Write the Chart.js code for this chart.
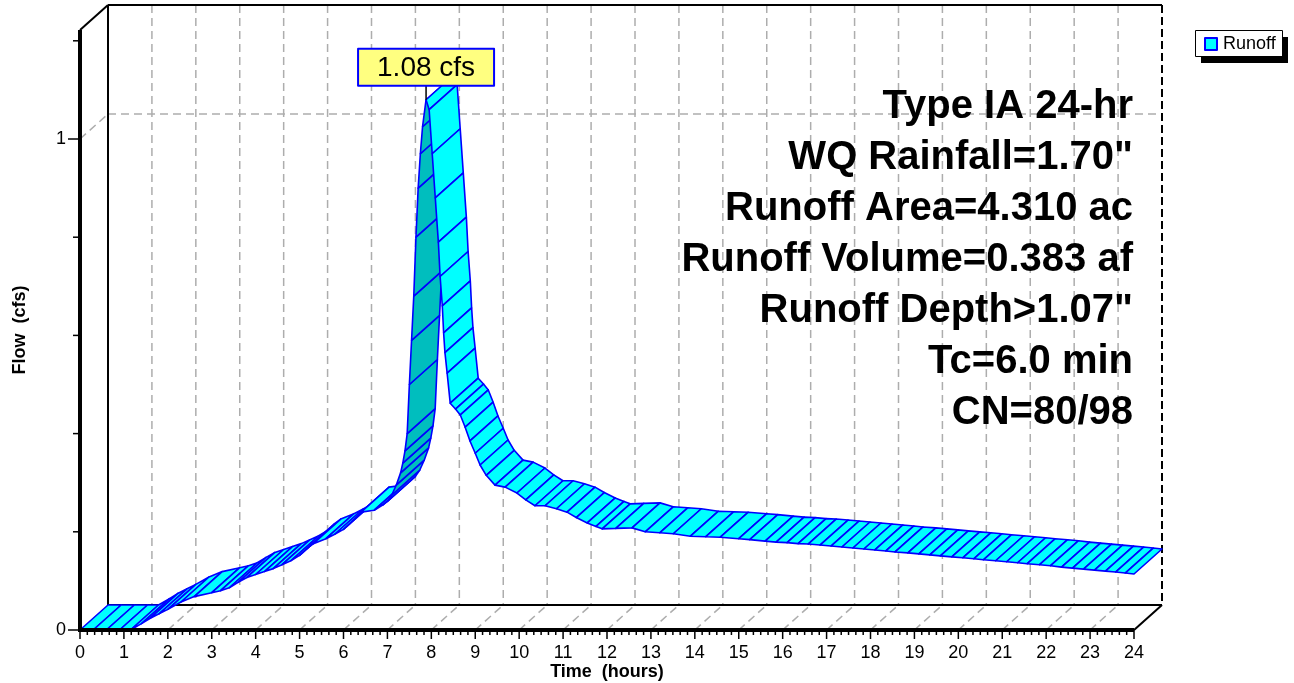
<!DOCTYPE html>
<html><head><meta charset="utf-8">
<script src="https://cdn.jsdelivr.net/npm/chart.js@4.4.1/dist/chart.umd.min.js"></script>
<style>html,body{margin:0;padding:0;background:#fff;overflow:hidden}</style>
</head><body>
<canvas id="c" width="1294" height="683" style="display:block;width:1294px;height:683px"></canvas>
<script>
// ---- data ----
const hours = [0,0.3,0.6,0.9,1.15,1.4,1.6,1.8,2.0,2.3,2.6,3.0,3.2,3.4,3.6,3.8,4.0,4.2,4.4,4.6,4.8,5.0,5.15,5.3,5.6,5.8,6.0,6.2,6.4,6.7,6.9,7.0,7.1,7.2,7.3,7.35,7.4,7.45,7.5,7.55,7.6,7.65,7.7,7.75,7.8,7.88,7.95,8.02,8.09,8.16,8.2,8.25,8.28,8.31,8.36,8.43,8.55,8.66,8.77,8.88,9.0,9.11,9.25,9.45,9.68,9.95,10.15,10.36,10.59,10.85,11.09,11.3,11.55,11.75,11.89,12.2,12.57,12.87,13.2,13.51,13.9,14.25,14.58,15.0,15.25,15.6,15.85,16.1,16.35,16.58,16.85,17.1,17.35,17.6,17.85,18.1,18.35,18.56,18.85,19.1,19.35,19.59,19.85,20.1,20.35,20.57,20.85,21.1,21.35,21.57,21.85,22.1,22.35,22.6,22.85,23.1,23.35,23.58,23.8,24.0];
const flow = [0,0,0,0,0,0.013,0.024,0.033,0.042,0.057,0.068,0.076,0.080,0.086,0.097,0.107,0.113,0.119,0.125,0.133,0.141,0.152,0.165,0.175,0.186,0.195,0.205,0.222,0.240,0.244,0.255,0.262,0.275,0.295,0.32,0.34,0.365,0.40,0.50,0.59,0.68,0.80,0.90,0.97,1.025,1.08,1.06,0.97,0.88,0.79,0.72,0.66,0.605,0.565,0.523,0.462,0.45,0.438,0.413,0.385,0.36,0.336,0.315,0.295,0.291,0.279,0.265,0.253,0.253,0.247,0.240,0.229,0.218,0.211,0.206,0.207,0.208,0.200,0.198,0.196,0.191,0.190,0.189,0.186,0.184,0.181,0.179,0.178,0.176,0.175,0.173,0.171,0.169,0.167,0.165,0.163,0.161,0.159,0.157,0.155,0.153,0.151,0.149,0.147,0.145,0.143,0.141,0.139,0.137,0.135,0.133,0.131,0.128,0.126,0.124,0.122,0.120,0.118,0.116,0.114];
const xTickValues = [0,1,2,3,4,5,6,7,8,9,10,11,12,13,14,15,16,17,18,19,20,21,22,23,24];
const yTickValues = [0,1];
const yTickLabels = ['0','1'];
const seriesName = 'Runoff';
const peakLabel = '1.08 cfs';
const infoLines = ['Type IA 24-hr','WQ Rainfall=1.70"','Runoff Area=4.310 ac','Runoff Volume=0.383 af','Runoff Depth>1.07"','Tc=6.0 min','CN=80/98'];
const xTitle = 'Time  (hours)';
const yTitle = 'Flow  (cfs)';

// ---- style ----
const FONT = '"Liberation Sans", Arial, sans-serif';
const DX = 28, DY = 25;            // pseudo-3D depth offset (px)
const CYAN = '#00FFFF', TEAL = '#00BEBE', BLUE = '#0000FF', GRID = '#ADADAD';

const points = hours.map((h, i) => ({x: h, y: flow[i]}));

function line(ctx, x1, y1, x2, y2) { ctx.beginPath(); ctx.moveTo(x1, y1); ctx.lineTo(x2, y2); ctx.stroke(); }

const ribbonPlugin = {
  id: 'ribbon3d',
  beforeDatasetsDraw(chart) {
    const ctx = chart.ctx, xs = chart.scales.x, ys = chart.scales.y, a = chart.chartArea;
    const y0 = ys.getPixelForValue(0), top = a.top;
    ctx.save();
    // back wall dashed grid
    ctx.strokeStyle = GRID; ctx.lineWidth = 1.5; ctx.setLineDash([8, 5]);
    for (const h of xTickValues) {
      if (h === 0 || h === 24) continue;
      const xb = xs.getPixelForValue(h) + DX;
      line(ctx, xb, top - DY, xb, y0 - DY);
      line(ctx, xs.getPixelForValue(h), y0, xb, y0 - DY);
    }
    for (const v of yTickValues) {
      if (v === 0) continue;
      const yp = ys.getPixelForValue(v);
      line(ctx, a.left, yp, a.left + DX, yp - DY);
      line(ctx, a.left + DX, yp - DY, a.right + DX, yp - DY);
    }
    // right back edge dashed dark
    ctx.strokeStyle = '#000'; ctx.lineWidth = 2; ctx.setLineDash([8, 4]);
    line(ctx, a.right + DX, top - DY, a.right + DX, y0 - DY);
    ctx.setLineDash([]);
    // back wall frame
    ctx.lineWidth = 2;
    line(ctx, a.left + DX, top - DY, a.left + DX, y0 - DY);
    line(ctx, a.left + DX, top - DY, a.right + DX, top - DY);
    line(ctx, a.left + DX, y0 - DY, a.right + DX, y0 - DY);
    line(ctx, a.left, top, a.left + DX, top - DY);
    line(ctx, a.right, y0, a.right + DX, y0 - DY);
    ctx.restore();
  },
  afterDatasetsDraw(chart) {
    const ctx = chart.ctx, xs = chart.scales.x, ys = chart.scales.y, a = chart.chartArea;
    const pts = chart.getDatasetMeta(0).data;
    const y0 = ys.getPixelForValue(0);
    ctx.save();
    // ribbon
    ctx.lineJoin = 'round'; ctx.lineWidth = 1.6; ctx.strokeStyle = BLUE;
    for (let i = 0; i < pts.length - 1; i++) {
      const p = pts[i], q = pts[i + 1];
      const cross = (q.x - p.x) * (-DY) - (q.y - p.y) * DX;
      ctx.beginPath();
      ctx.moveTo(p.x, p.y); ctx.lineTo(q.x, q.y);
      ctx.lineTo(q.x + DX, q.y - DY); ctx.lineTo(p.x + DX, p.y - DY); ctx.closePath();
      ctx.fillStyle = cross > 0 ? TEAL : CYAN;
      ctx.fill(); ctx.stroke();
    }
    // front axes
    ctx.strokeStyle = '#000'; ctx.lineWidth = 4; ctx.lineCap = 'butt';
    line(ctx, a.left, a.top, a.left, y0 + 2);
    line(ctx, a.left - 2, y0, a.right, y0);
    ctx.lineWidth = 1.5;
    // x ticks (major each hour, minor each 10 min)
    for (let k = 0; k <= 24 * 6; k++) {
      const xp = xs.getPixelForValue(k / 6);
      line(ctx, xp, y0, xp, y0 + (k % 6 === 0 ? 9 : 5));
    }
    // y ticks
    for (let k = 0; k <= 6; k++) {
      const v = k * 0.2, yp = ys.getPixelForValue(v);
      const major = yTickValues.some(t => Math.abs(t - v) < 1e-9);
      line(ctx, a.left - (major ? 12 : 7), yp, a.left, yp);
    }
    // peak label
    let pk = pts[0];
    for (const p of pts) if (p.y < pk.y) pk = p;
    const bw = 136, bh = 37, bx = pk.x - bw / 2, by = pk.y - 14 - bh;
    ctx.strokeStyle = '#000'; ctx.lineWidth = 1.5;
    line(ctx, pk.x, by + bh, pk.x, pk.y);
    ctx.fillStyle = '#FFFF80'; ctx.fillRect(bx, by, bw, bh);
    ctx.strokeStyle = BLUE; ctx.lineWidth = 2; ctx.strokeRect(bx, by, bw, bh);
    ctx.fillStyle = '#000'; ctx.font = '28px ' + FONT; ctx.textAlign = 'center'; ctx.textBaseline = 'middle';
    ctx.fillText(peakLabel, pk.x, by + bh / 2 + 1);
    // info text
    ctx.font = 'bold 40px ' + FONT; ctx.textAlign = 'right'; ctx.textBaseline = 'alphabetic';
    infoLines.forEach((t, i) => ctx.fillText(t, a.right - 1, 118 + i * 51));
    // legend
    const lx = 1195, ly = 30, lw = 87, lh = 26;
    ctx.fillStyle = '#000'; ctx.fillRect(lx + 6, ly + 7, lw, lh);
    ctx.fillStyle = '#fff'; ctx.fillRect(lx, ly, lw, lh);
    ctx.strokeStyle = '#000'; ctx.lineWidth = 1; ctx.strokeRect(lx + 0.5, ly + 0.5, lw, lh);
    ctx.fillStyle = CYAN; ctx.fillRect(lx + 10, ly + 8, 12, 12);
    ctx.strokeStyle = BLUE; ctx.lineWidth = 2; ctx.strokeRect(lx + 10, ly + 8, 12, 12);
    ctx.fillStyle = '#000'; ctx.font = '18px ' + FONT; ctx.textAlign = 'left'; ctx.textBaseline = 'middle';
    ctx.fillText(seriesName, lx + 28, ly + lh / 2 + 1);
    ctx.restore();
  }
};

new Chart(document.getElementById('c'), {
  type: 'line',
  data: { datasets: [{ label: seriesName, data: points, showLine: false, pointRadius: 0, pointHoverRadius: 0, borderColor: BLUE, backgroundColor: CYAN }] },
  options: {
    responsive: false, animation: false, devicePixelRatio: 1,
    layout: { padding: { top: 30, right: 160, left: 0, bottom: 0 } },
    plugins: { legend: { display: false }, tooltip: { enabled: false } },
    events: [],
    scales: {
      x: {
        type: 'linear', min: 0, max: 24, position: 'bottom',
        afterFit: s => { s.height = 53; },
        grid: { display: false, drawTicks: true, tickLength: 10 },
        border: { display: false },
        ticks: { stepSize: 1, autoSkip: false, maxRotation: 0, padding: 2, color: '#000', font: { family: FONT, size: 18 },
                 callback: v => (xTickValues.includes(v) ? String(v) : '') },
        title: { display: true, text: xTitle, color: '#000', font: { family: FONT, size: 18, weight: 'bold' }, padding: { top: 0, bottom: 0 } }
      },
      y: {
        type: 'linear', min: 0, max: 1.222, position: 'left',
        afterFit: s => { s.width = 80; },
        grid: { display: false, drawTicks: true, tickLength: 12 },
        border: { display: false },
        ticks: { stepSize: 0.2, autoSkip: false, padding: 2, color: '#000', font: { family: FONT, size: 18 },
                 callback: v => { const i = yTickValues.findIndex(t => Math.abs(t - v) < 1e-9); return i >= 0 ? yTickLabels[i] : ''; } },
        title: { display: true, text: yTitle, color: '#000', font: { family: FONT, size: 18, weight: 'bold' }, padding: { top: 9, bottom: 0 } }
      }
    }
  },
  plugins: [ribbonPlugin]
});
</script>
</body></html>
